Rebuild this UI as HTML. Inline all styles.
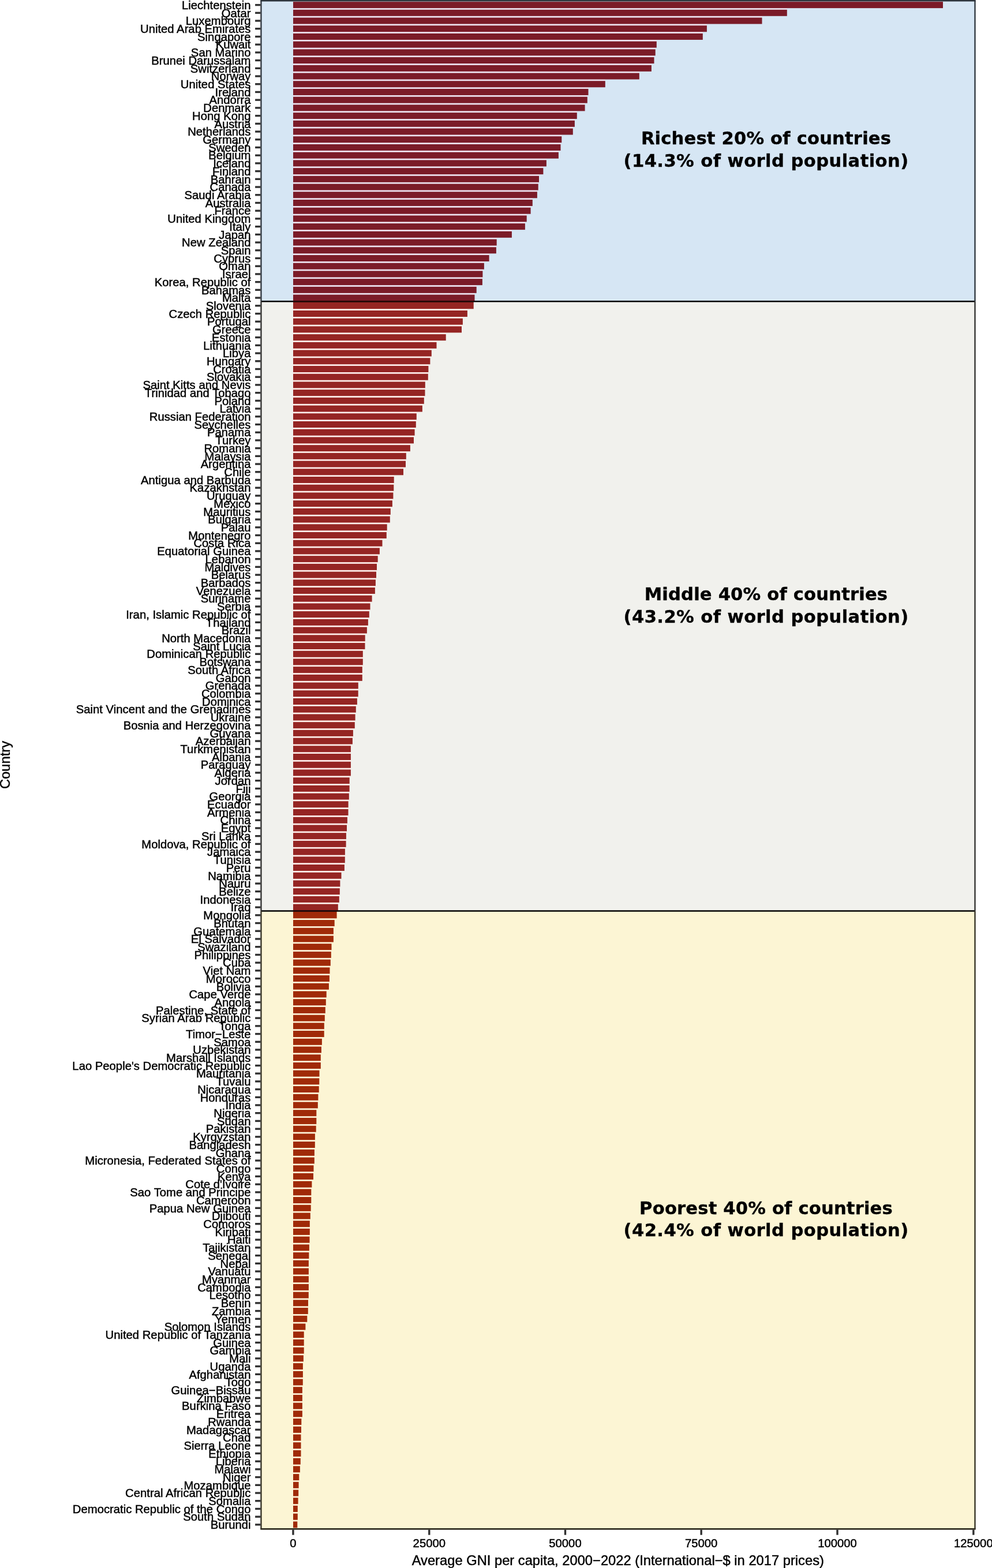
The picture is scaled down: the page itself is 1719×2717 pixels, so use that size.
<!DOCTYPE html>
<html lang="en"><head><meta charset="utf-8"><title>Average GNI per capita by country, 2000-2022</title>
<style>
html,body{margin:0;padding:0;background:#fff}
body{width:1719px;height:2717px;overflow:hidden}
svg{display:block}
text{font-family:"Liberation Sans",sans-serif;fill:#000;stroke:#000;stroke-width:0.45px}
.yl text{font-size:20.27px;text-anchor:end}
.xl text{font-size:20.27px;text-anchor:middle}
.ttl{font-size:23.72px;text-anchor:middle}
.ann text{font-family:"DejaVu Sans",sans-serif;font-weight:bold;font-size:30.6px;text-anchor:middle;stroke-width:0.35px}
.tk line{stroke:#303030;stroke-width:3.4}
.b0 rect{fill:#7B1B28}.b1 rect{fill:#952523}.b2 rect{fill:#A02A08}
</style></head><body>
<svg width="1719" height="2717" viewBox="0 0 1719 2717">
<rect x="0" y="0" width="1719" height="2717" fill="#fff"/>
<g>
<rect x="452.45" y="1.1" width="1237.05" height="521.2" fill="#D6E6F4"/>
<rect x="452.45" y="522.3" width="1237.05" height="1056.2" fill="#F1F1ED"/>
<rect x="452.45" y="1578.5" width="1237.05" height="1070.85" fill="#FCF5D4"/>
</g>
<g fill="#EEE4F1">
<rect x="508" y="2.15" width="1126" height="1.45"/>
<rect x="508" y="13.6" width="855.8" height="3.71"/>
<rect x="508" y="27.31" width="812.5" height="3.71"/>
<rect x="508" y="41.03" width="716.9" height="3.71"/>
<rect x="508" y="54.74" width="709.8" height="3.71"/>
<rect x="508" y="68.46" width="629.8" height="3.71"/>
<rect x="508" y="82.17" width="627.7" height="3.71"/>
<rect x="508" y="95.89" width="625.5" height="3.71"/>
<rect x="508" y="109.6" width="620.9" height="3.71"/>
<rect x="508" y="123.32" width="599.8" height="3.71"/>
<rect x="508" y="137.03" width="540.8" height="3.71"/>
<rect x="508" y="150.75" width="511.5" height="3.71"/>
<rect x="508" y="164.47" width="509.8" height="3.71"/>
<rect x="508" y="178.18" width="505.6" height="3.71"/>
<rect x="508" y="191.89" width="491.8" height="3.71"/>
<rect x="508" y="205.61" width="487.9" height="3.71"/>
<rect x="508" y="219.32" width="484.8" height="3.71"/>
<rect x="508" y="233.04" width="465.3" height="3.71"/>
<rect x="508" y="246.75" width="463.5" height="3.71"/>
<rect x="508" y="260.47" width="459.9" height="3.71"/>
<rect x="508" y="274.19" width="438.9" height="3.71"/>
<rect x="508" y="287.9" width="433.4" height="3.71"/>
<rect x="508" y="301.62" width="426" height="3.71"/>
<rect x="508" y="315.33" width="424.7" height="3.71"/>
<rect x="508" y="329.05" width="422.9" height="3.71"/>
<rect x="508" y="342.76" width="414.8" height="3.71"/>
<rect x="508" y="356.48" width="411.6" height="3.71"/>
<rect x="508" y="370.19" width="404.7" height="3.71"/>
<rect x="508" y="383.91" width="401.9" height="3.71"/>
<rect x="508" y="397.62" width="378.9" height="3.71"/>
<rect x="508" y="411.34" width="352.7" height="3.71"/>
<rect x="508" y="425.05" width="351.9" height="3.71"/>
<rect x="508" y="438.77" width="339.6" height="3.71"/>
<rect x="508" y="452.48" width="330.9" height="3.71"/>
<rect x="508" y="466.19" width="328.4" height="3.71"/>
<rect x="508" y="479.91" width="327.9" height="3.71"/>
<rect x="508" y="493.62" width="317.7" height="3.71"/>
<rect x="508" y="507.34" width="314.5" height="3.71"/>
</g>
<g fill="#FFF0EC">
<rect x="508" y="534.77" width="301.9" height="3.71"/>
<rect x="508" y="548.49" width="293.9" height="3.71"/>
<rect x="508" y="562.2" width="292" height="3.71"/>
<rect x="508" y="575.91" width="264.7" height="3.71"/>
<rect x="508" y="589.63" width="248.5" height="3.71"/>
<rect x="508" y="603.35" width="239.8" height="3.71"/>
<rect x="508" y="617.06" width="237.4" height="3.71"/>
<rect x="508" y="630.77" width="234.4" height="3.71"/>
<rect x="508" y="644.49" width="233.8" height="3.71"/>
<rect x="508" y="658.21" width="228.8" height="3.71"/>
<rect x="508" y="671.92" width="228.5" height="3.71"/>
<rect x="508" y="685.63" width="226.8" height="3.71"/>
<rect x="508" y="699.35" width="223.9" height="3.71"/>
<rect x="508" y="713.07" width="213.8" height="3.71"/>
<rect x="508" y="726.78" width="212.8" height="3.71"/>
<rect x="508" y="740.5" width="210.6" height="3.71"/>
<rect x="508" y="754.21" width="209" height="3.71"/>
<rect x="508" y="767.93" width="202.9" height="3.71"/>
<rect x="508" y="781.64" width="195.8" height="3.71"/>
<rect x="508" y="795.36" width="195" height="3.71"/>
<rect x="508" y="809.07" width="191" height="3.71"/>
<rect x="508" y="822.78" width="174.7" height="3.71"/>
<rect x="508" y="836.5" width="174.3" height="3.71"/>
<rect x="508" y="850.22" width="173.4" height="3.71"/>
<rect x="508" y="863.93" width="171.9" height="3.71"/>
<rect x="508" y="877.64" width="168.8" height="3.71"/>
<rect x="508" y="891.36" width="167.8" height="3.71"/>
<rect x="508" y="905.08" width="162.7" height="3.71"/>
<rect x="508" y="918.79" width="161.8" height="3.71"/>
<rect x="508" y="932.5" width="154.5" height="3.71"/>
<rect x="508" y="946.22" width="149.9" height="3.71"/>
<rect x="508" y="959.94" width="146.7" height="3.71"/>
<rect x="508" y="973.65" width="145" height="3.71"/>
<rect x="508" y="987.37" width="144" height="3.71"/>
<rect x="508" y="1001.08" width="142.9" height="3.71"/>
<rect x="508" y="1014.79" width="141.9" height="3.71"/>
<rect x="508" y="1028.51" width="136.6" height="3.71"/>
<rect x="508" y="1042.22" width="133.5" height="3.71"/>
<rect x="508" y="1055.94" width="131.8" height="3.71"/>
<rect x="508" y="1069.65" width="129.9" height="3.71"/>
<rect x="508" y="1083.37" width="127.9" height="3.71"/>
<rect x="508" y="1097.08" width="124.7" height="3.71"/>
<rect x="508" y="1110.8" width="124.5" height="3.71"/>
<rect x="508" y="1124.51" width="120.8" height="3.71"/>
<rect x="508" y="1138.23" width="120.8" height="3.71"/>
<rect x="508" y="1151.94" width="119.8" height="3.71"/>
<rect x="508" y="1165.66" width="119.8" height="3.71"/>
<rect x="508" y="1179.38" width="112.8" height="3.71"/>
<rect x="508" y="1193.09" width="112.7" height="3.71"/>
<rect x="508" y="1206.8" width="110.9" height="3.71"/>
<rect x="508" y="1220.52" width="108.8" height="3.71"/>
<rect x="508" y="1234.23" width="107.6" height="3.71"/>
<rect x="508" y="1247.95" width="106.8" height="3.71"/>
<rect x="508" y="1261.66" width="103.9" height="3.71"/>
<rect x="508" y="1275.38" width="102.9" height="3.71"/>
<rect x="508" y="1289.09" width="99.9" height="3.71"/>
<rect x="508" y="1302.81" width="99.9" height="3.71"/>
<rect x="508" y="1316.52" width="99.9" height="3.71"/>
<rect x="508" y="1330.24" width="99.9" height="3.71"/>
<rect x="508" y="1343.95" width="97.7" height="3.71"/>
<rect x="508" y="1357.67" width="97.6" height="3.71"/>
<rect x="508" y="1371.38" width="96.8" height="3.71"/>
<rect x="508" y="1385.1" width="95.6" height="3.71"/>
<rect x="508" y="1398.81" width="95.5" height="3.71"/>
<rect x="508" y="1412.53" width="93.9" height="3.71"/>
<rect x="508" y="1426.24" width="93" height="3.71"/>
<rect x="508" y="1439.96" width="91.9" height="3.71"/>
<rect x="508" y="1453.67" width="91.6" height="3.71"/>
<rect x="508" y="1467.39" width="89.9" height="3.71"/>
<rect x="508" y="1481.1" width="89.8" height="3.71"/>
<rect x="508" y="1494.82" width="88.9" height="3.71"/>
<rect x="508" y="1508.53" width="83.5" height="3.71"/>
<rect x="508" y="1522.25" width="81.4" height="3.71"/>
<rect x="508" y="1535.96" width="80.8" height="3.71"/>
<rect x="508" y="1549.68" width="79.8" height="3.71"/>
<rect x="508" y="1563.39" width="77.8" height="3.71"/>
</g>
<g fill="#FFF6DC">
<rect x="508" y="1590.82" width="71.7" height="3.71"/>
<rect x="508" y="1604.54" width="69.9" height="3.71"/>
<rect x="508" y="1618.25" width="69.9" height="3.71"/>
<rect x="508" y="1631.97" width="66.5" height="3.71"/>
<rect x="508" y="1645.68" width="65.8" height="3.71"/>
<rect x="508" y="1659.4" width="64.8" height="3.71"/>
<rect x="508" y="1673.11" width="63.5" height="3.71"/>
<rect x="508" y="1686.83" width="62.9" height="3.71"/>
<rect x="508" y="1700.54" width="61.9" height="3.71"/>
<rect x="508" y="1714.26" width="57.7" height="3.71"/>
<rect x="508" y="1727.97" width="56.8" height="3.71"/>
<rect x="508" y="1741.69" width="55.8" height="3.71"/>
<rect x="508" y="1755.4" width="54.8" height="3.71"/>
<rect x="508" y="1769.12" width="53.8" height="3.71"/>
<rect x="508" y="1782.83" width="53.7" height="3.71"/>
<rect x="508" y="1796.55" width="49.9" height="3.71"/>
<rect x="508" y="1810.26" width="48.9" height="3.71"/>
<rect x="508" y="1823.98" width="47.8" height="3.71"/>
<rect x="508" y="1837.69" width="47.8" height="3.71"/>
<rect x="508" y="1851.41" width="45.5" height="3.71"/>
<rect x="508" y="1865.12" width="45.3" height="3.71"/>
<rect x="508" y="1878.84" width="44.7" height="3.71"/>
<rect x="508" y="1892.55" width="43.4" height="3.71"/>
<rect x="508" y="1906.27" width="42.8" height="3.71"/>
<rect x="508" y="1919.98" width="40.3" height="3.71"/>
<rect x="508" y="1933.7" width="40.3" height="3.71"/>
<rect x="508" y="1947.41" width="39.7" height="3.71"/>
<rect x="508" y="1961.13" width="37.9" height="3.71"/>
<rect x="508" y="1974.84" width="37.8" height="3.71"/>
<rect x="508" y="1988.56" width="36.9" height="3.71"/>
<rect x="508" y="2002.27" width="36.8" height="3.71"/>
<rect x="508" y="2015.99" width="35.5" height="3.71"/>
<rect x="508" y="2029.7" width="35" height="3.71"/>
<rect x="508" y="2043.42" width="32.4" height="3.71"/>
<rect x="508" y="2057.14" width="31.3" height="3.71"/>
<rect x="508" y="2070.85" width="31.3" height="3.71"/>
<rect x="508" y="2084.57" width="30.7" height="3.71"/>
<rect x="508" y="2098.28" width="29.8" height="3.71"/>
<rect x="508" y="2111.99" width="28.8" height="3.71"/>
<rect x="508" y="2125.71" width="28.8" height="3.71"/>
<rect x="508" y="2139.42" width="28.5" height="3.71"/>
<rect x="508" y="2153.14" width="27.9" height="3.71"/>
<rect x="508" y="2166.86" width="27.4" height="3.71"/>
<rect x="508" y="2180.57" width="26.9" height="3.71"/>
<rect x="508" y="2194.28" width="26.9" height="3.71"/>
<rect x="508" y="2208" width="26.9" height="3.71"/>
<rect x="508" y="2221.71" width="26.9" height="3.71"/>
<rect x="508" y="2235.43" width="26.8" height="3.71"/>
<rect x="508" y="2249.14" width="26" height="3.71"/>
<rect x="508" y="2262.86" width="25.8" height="3.71"/>
<rect x="508" y="2276.57" width="24.3" height="3.71"/>
<rect x="508" y="2290.29" width="21.4" height="3.71"/>
<rect x="508" y="2304.01" width="18.7" height="3.71"/>
<rect x="508" y="2317.72" width="18.7" height="3.71"/>
<rect x="508" y="2331.43" width="18.7" height="3.71"/>
<rect x="508" y="2345.15" width="17.9" height="3.71"/>
<rect x="508" y="2358.86" width="16.9" height="3.71"/>
<rect x="508" y="2372.58" width="16.9" height="3.71"/>
<rect x="508" y="2386.3" width="16.8" height="3.71"/>
<rect x="508" y="2400.01" width="15.9" height="3.71"/>
<rect x="508" y="2413.72" width="15.9" height="3.71"/>
<rect x="508" y="2427.44" width="15.9" height="3.71"/>
<rect x="508" y="2441.15" width="15.9" height="3.71"/>
<rect x="508" y="2454.87" width="14.3" height="3.71"/>
<rect x="508" y="2468.59" width="14" height="3.71"/>
<rect x="508" y="2482.3" width="13.5" height="3.71"/>
<rect x="508" y="2496.01" width="13.5" height="3.71"/>
<rect x="508" y="2509.73" width="13.5" height="3.71"/>
<rect x="508" y="2523.44" width="12.8" height="3.71"/>
<rect x="508" y="2537.16" width="11.9" height="3.71"/>
<rect x="508" y="2550.88" width="10.3" height="3.71"/>
<rect x="508" y="2564.59" width="9.6" height="3.71"/>
<rect x="508" y="2578.3" width="9.2" height="3.71"/>
<rect x="508" y="2592.02" width="8.6" height="3.71"/>
<rect x="508" y="2605.73" width="7.8" height="3.71"/>
<rect x="508" y="2619.45" width="7.8" height="3.71"/>
<rect x="508" y="2633.16" width="7.3" height="3.71"/>
</g>
<g class="b0">
<rect x="508" y="3.1" width="1126" height="11"/>
<rect x="508" y="16.81" width="855.8" height="11"/>
<rect x="508" y="30.53" width="812.5" height="11"/>
<rect x="508" y="44.24" width="716.9" height="11"/>
<rect x="508" y="57.96" width="709.8" height="11"/>
<rect x="508" y="71.67" width="629.8" height="11"/>
<rect x="508" y="85.39" width="627.7" height="11"/>
<rect x="508" y="99.1" width="625.5" height="11"/>
<rect x="508" y="112.82" width="620.9" height="11"/>
<rect x="508" y="126.53" width="599.8" height="11"/>
<rect x="508" y="140.25" width="540.8" height="11"/>
<rect x="508" y="153.97" width="511.5" height="11"/>
<rect x="508" y="167.68" width="509.8" height="11"/>
<rect x="508" y="181.39" width="505.6" height="11"/>
<rect x="508" y="195.11" width="491.8" height="11"/>
<rect x="508" y="208.82" width="487.9" height="11"/>
<rect x="508" y="222.54" width="484.8" height="11"/>
<rect x="508" y="236.25" width="465.3" height="11"/>
<rect x="508" y="249.97" width="463.5" height="11"/>
<rect x="508" y="263.69" width="459.9" height="11"/>
<rect x="508" y="277.4" width="438.9" height="11"/>
<rect x="508" y="291.12" width="433.4" height="11"/>
<rect x="508" y="304.83" width="426" height="11"/>
<rect x="508" y="318.55" width="424.7" height="11"/>
<rect x="508" y="332.26" width="422.9" height="11"/>
<rect x="508" y="345.98" width="414.8" height="11"/>
<rect x="508" y="359.69" width="411.6" height="11"/>
<rect x="508" y="373.41" width="404.7" height="11"/>
<rect x="508" y="387.12" width="401.9" height="11"/>
<rect x="508" y="400.84" width="378.9" height="11"/>
<rect x="508" y="414.55" width="352.7" height="11"/>
<rect x="508" y="428.27" width="351.9" height="11"/>
<rect x="508" y="441.98" width="339.6" height="11"/>
<rect x="508" y="455.69" width="330.9" height="11"/>
<rect x="508" y="469.41" width="328.4" height="11"/>
<rect x="508" y="483.12" width="327.9" height="11"/>
<rect x="508" y="496.84" width="317.7" height="11"/>
<rect x="508" y="510.55" width="314.5" height="11"/>
</g>
<g class="b1">
<rect x="508" y="522.3" width="312.7" height="12.97"/>
<rect x="508" y="537.99" width="301.9" height="11"/>
<rect x="508" y="551.7" width="293.9" height="11"/>
<rect x="508" y="565.41" width="292" height="11"/>
<rect x="508" y="579.13" width="264.7" height="11"/>
<rect x="508" y="592.85" width="248.5" height="11"/>
<rect x="508" y="606.56" width="239.8" height="11"/>
<rect x="508" y="620.27" width="237.4" height="11"/>
<rect x="508" y="633.99" width="234.4" height="11"/>
<rect x="508" y="647.71" width="233.8" height="11"/>
<rect x="508" y="661.42" width="228.8" height="11"/>
<rect x="508" y="675.13" width="228.5" height="11"/>
<rect x="508" y="688.85" width="226.8" height="11"/>
<rect x="508" y="702.57" width="223.9" height="11"/>
<rect x="508" y="716.28" width="213.8" height="11"/>
<rect x="508" y="730" width="212.8" height="11"/>
<rect x="508" y="743.71" width="210.6" height="11"/>
<rect x="508" y="757.43" width="209" height="11"/>
<rect x="508" y="771.14" width="202.9" height="11"/>
<rect x="508" y="784.86" width="195.8" height="11"/>
<rect x="508" y="798.57" width="195" height="11"/>
<rect x="508" y="812.28" width="191" height="11"/>
<rect x="508" y="826" width="174.7" height="11"/>
<rect x="508" y="839.72" width="174.3" height="11"/>
<rect x="508" y="853.43" width="173.4" height="11"/>
<rect x="508" y="867.14" width="171.9" height="11"/>
<rect x="508" y="880.86" width="168.8" height="11"/>
<rect x="508" y="894.58" width="167.8" height="11"/>
<rect x="508" y="908.29" width="162.7" height="11"/>
<rect x="508" y="922" width="161.8" height="11"/>
<rect x="508" y="935.72" width="154.5" height="11"/>
<rect x="508" y="949.44" width="149.9" height="11"/>
<rect x="508" y="963.15" width="146.7" height="11"/>
<rect x="508" y="976.87" width="145" height="11"/>
<rect x="508" y="990.58" width="144" height="11"/>
<rect x="508" y="1004.29" width="142.9" height="11"/>
<rect x="508" y="1018.01" width="141.9" height="11"/>
<rect x="508" y="1031.72" width="136.6" height="11"/>
<rect x="508" y="1045.44" width="133.5" height="11"/>
<rect x="508" y="1059.15" width="131.8" height="11"/>
<rect x="508" y="1072.87" width="129.9" height="11"/>
<rect x="508" y="1086.58" width="127.9" height="11"/>
<rect x="508" y="1100.3" width="124.7" height="11"/>
<rect x="508" y="1114.01" width="124.5" height="11"/>
<rect x="508" y="1127.73" width="120.8" height="11"/>
<rect x="508" y="1141.44" width="120.8" height="11"/>
<rect x="508" y="1155.16" width="119.8" height="11"/>
<rect x="508" y="1168.88" width="119.8" height="11"/>
<rect x="508" y="1182.59" width="112.8" height="11"/>
<rect x="508" y="1196.3" width="112.7" height="11"/>
<rect x="508" y="1210.02" width="110.9" height="11"/>
<rect x="508" y="1223.73" width="108.8" height="11"/>
<rect x="508" y="1237.45" width="107.6" height="11"/>
<rect x="508" y="1251.16" width="106.8" height="11"/>
<rect x="508" y="1264.88" width="103.9" height="11"/>
<rect x="508" y="1278.59" width="102.9" height="11"/>
<rect x="508" y="1292.31" width="99.9" height="11"/>
<rect x="508" y="1306.02" width="99.9" height="11"/>
<rect x="508" y="1319.74" width="99.9" height="11"/>
<rect x="508" y="1333.45" width="99.9" height="11"/>
<rect x="508" y="1347.17" width="97.7" height="11"/>
<rect x="508" y="1360.88" width="97.6" height="11"/>
<rect x="508" y="1374.6" width="96.8" height="11"/>
<rect x="508" y="1388.31" width="95.6" height="11"/>
<rect x="508" y="1402.03" width="95.5" height="11"/>
<rect x="508" y="1415.74" width="93.9" height="11"/>
<rect x="508" y="1429.46" width="93" height="11"/>
<rect x="508" y="1443.17" width="91.9" height="11"/>
<rect x="508" y="1456.89" width="91.6" height="11"/>
<rect x="508" y="1470.6" width="89.9" height="11"/>
<rect x="508" y="1484.32" width="89.8" height="11"/>
<rect x="508" y="1498.03" width="88.9" height="11"/>
<rect x="508" y="1511.75" width="83.5" height="11"/>
<rect x="508" y="1525.46" width="81.4" height="11"/>
<rect x="508" y="1539.18" width="80.8" height="11"/>
<rect x="508" y="1552.89" width="79.8" height="11"/>
<rect x="508" y="1566.61" width="77.8" height="11"/>
</g>
<g class="b2">
<rect x="508" y="1578.5" width="75.6" height="12.82"/>
<rect x="508" y="1594.04" width="71.7" height="11"/>
<rect x="508" y="1607.75" width="69.9" height="11"/>
<rect x="508" y="1621.47" width="69.9" height="11"/>
<rect x="508" y="1635.18" width="66.5" height="11"/>
<rect x="508" y="1648.9" width="65.8" height="11"/>
<rect x="508" y="1662.61" width="64.8" height="11"/>
<rect x="508" y="1676.33" width="63.5" height="11"/>
<rect x="508" y="1690.04" width="62.9" height="11"/>
<rect x="508" y="1703.76" width="61.9" height="11"/>
<rect x="508" y="1717.47" width="57.7" height="11"/>
<rect x="508" y="1731.19" width="56.8" height="11"/>
<rect x="508" y="1744.9" width="55.8" height="11"/>
<rect x="508" y="1758.62" width="54.8" height="11"/>
<rect x="508" y="1772.33" width="53.8" height="11"/>
<rect x="508" y="1786.05" width="53.7" height="11"/>
<rect x="508" y="1799.76" width="49.9" height="11"/>
<rect x="508" y="1813.48" width="48.9" height="11"/>
<rect x="508" y="1827.19" width="47.8" height="11"/>
<rect x="508" y="1840.91" width="47.8" height="11"/>
<rect x="508" y="1854.62" width="45.5" height="11"/>
<rect x="508" y="1868.34" width="45.3" height="11"/>
<rect x="508" y="1882.05" width="44.7" height="11"/>
<rect x="508" y="1895.77" width="43.4" height="11"/>
<rect x="508" y="1909.48" width="42.8" height="11"/>
<rect x="508" y="1923.2" width="40.3" height="11"/>
<rect x="508" y="1936.91" width="40.3" height="11"/>
<rect x="508" y="1950.63" width="39.7" height="11"/>
<rect x="508" y="1964.34" width="37.9" height="11"/>
<rect x="508" y="1978.06" width="37.8" height="11"/>
<rect x="508" y="1991.77" width="36.9" height="11"/>
<rect x="508" y="2005.49" width="36.8" height="11"/>
<rect x="508" y="2019.2" width="35.5" height="11"/>
<rect x="508" y="2032.92" width="35" height="11"/>
<rect x="508" y="2046.64" width="32.4" height="11"/>
<rect x="508" y="2060.35" width="31.3" height="11"/>
<rect x="508" y="2074.07" width="31.3" height="11"/>
<rect x="508" y="2087.78" width="30.7" height="11"/>
<rect x="508" y="2101.49" width="29.8" height="11"/>
<rect x="508" y="2115.21" width="28.8" height="11"/>
<rect x="508" y="2128.92" width="28.8" height="11"/>
<rect x="508" y="2142.64" width="28.5" height="11"/>
<rect x="508" y="2156.36" width="27.9" height="11"/>
<rect x="508" y="2170.07" width="27.4" height="11"/>
<rect x="508" y="2183.78" width="26.9" height="11"/>
<rect x="508" y="2197.5" width="26.9" height="11"/>
<rect x="508" y="2211.21" width="26.9" height="11"/>
<rect x="508" y="2224.93" width="26.9" height="11"/>
<rect x="508" y="2238.64" width="26.8" height="11"/>
<rect x="508" y="2252.36" width="26" height="11"/>
<rect x="508" y="2266.07" width="25.8" height="11"/>
<rect x="508" y="2279.79" width="24.3" height="11"/>
<rect x="508" y="2293.51" width="21.4" height="11"/>
<rect x="508" y="2307.22" width="18.7" height="11"/>
<rect x="508" y="2320.93" width="18.7" height="11"/>
<rect x="508" y="2334.65" width="18.7" height="11"/>
<rect x="508" y="2348.36" width="17.9" height="11"/>
<rect x="508" y="2362.08" width="16.9" height="11"/>
<rect x="508" y="2375.8" width="16.9" height="11"/>
<rect x="508" y="2389.51" width="16.8" height="11"/>
<rect x="508" y="2403.22" width="15.9" height="11"/>
<rect x="508" y="2416.94" width="15.9" height="11"/>
<rect x="508" y="2430.65" width="15.9" height="11"/>
<rect x="508" y="2444.37" width="15.9" height="11"/>
<rect x="508" y="2458.09" width="14.3" height="11"/>
<rect x="508" y="2471.8" width="14" height="11"/>
<rect x="508" y="2485.51" width="13.5" height="11"/>
<rect x="508" y="2499.23" width="13.5" height="11"/>
<rect x="508" y="2512.94" width="13.5" height="11"/>
<rect x="508" y="2526.66" width="12.8" height="11"/>
<rect x="508" y="2540.38" width="11.9" height="11"/>
<rect x="508" y="2554.09" width="10.3" height="11"/>
<rect x="508" y="2567.8" width="9.6" height="11"/>
<rect x="508" y="2581.52" width="9.2" height="11"/>
<rect x="508" y="2595.23" width="8.6" height="11"/>
<rect x="508" y="2608.95" width="7.8" height="11"/>
<rect x="508" y="2622.66" width="7.8" height="11"/>
<rect x="508" y="2636.38" width="7.3" height="11"/>
</g>
<g stroke="#000" stroke-width="2.6">
<line x1="452.45" y1="522.3" x2="1689.5" y2="522.3"/>
<line x1="508" y1="522.3" x2="820.7" y2="522.3" stroke="#240808"/>
<line x1="452.45" y1="1578.5" x2="1689.5" y2="1578.5"/>
<line x1="508" y1="1578.5" x2="583.6" y2="1578.5" stroke="#240808"/>
</g>
<g class="ann">
<text x="1327.5" y="250.1" letter-spacing="0.18">Richest 20% of countries</text>
<text x="1327.6" y="288.8" letter-spacing="0.42">(14.3% of world population)</text>
<text x="1327.5" y="1040.1" letter-spacing="0.18">Middle 40% of countries</text>
<text x="1327.6" y="1078.8" letter-spacing="0.42">(43.2% of world population)</text>
<text x="1327.5" y="2103.9" letter-spacing="0.18">Poorest 40% of countries</text>
<text x="1327.6" y="2142.3" letter-spacing="0.42">(42.4% of world population)</text>
</g>
<g stroke="#2a2a2a" stroke-linecap="butt">
<line x1="452.45" y1="1.1" x2="452.45" y2="522.3" stroke-width="2.3" stroke="#2c333b"/>
<line x1="452.45" y1="522.3" x2="452.45" y2="1578.5" stroke-width="2.3" stroke="#2d2d2b"/>
<line x1="452.45" y1="1578.5" x2="452.45" y2="2649.35" stroke-width="2.3" stroke="#302d20"/>
<line x1="1689.5" y1="1.1" x2="1689.5" y2="522.3" stroke-width="2.3" stroke="#2c333b"/>
<line x1="1689.5" y1="522.3" x2="1689.5" y2="1578.5" stroke-width="2.3" stroke="#2d2d2b"/>
<line x1="1689.5" y1="1578.5" x2="1689.5" y2="2649.35" stroke-width="2.3" stroke="#302d20"/>
<line x1="451.3" y1="1.1" x2="1690.65" y2="1.1" stroke-width="2.7" stroke="#2c333b"/>
<line x1="451.3" y1="2649.35" x2="1690.65" y2="2649.35" stroke-width="2.7" stroke="#302d20"/>
</g>
<g class="tk">
<line x1="442.1" y1="8.6" x2="451.4" y2="8.6"/>
<line x1="442.1" y1="22.31" x2="451.4" y2="22.31"/>
<line x1="442.1" y1="36.03" x2="451.4" y2="36.03"/>
<line x1="442.1" y1="49.74" x2="451.4" y2="49.74"/>
<line x1="442.1" y1="63.46" x2="451.4" y2="63.46"/>
<line x1="442.1" y1="77.17" x2="451.4" y2="77.17"/>
<line x1="442.1" y1="90.89" x2="451.4" y2="90.89"/>
<line x1="442.1" y1="104.6" x2="451.4" y2="104.6"/>
<line x1="442.1" y1="118.32" x2="451.4" y2="118.32"/>
<line x1="442.1" y1="132.03" x2="451.4" y2="132.03"/>
<line x1="442.1" y1="145.75" x2="451.4" y2="145.75"/>
<line x1="442.1" y1="159.47" x2="451.4" y2="159.47"/>
<line x1="442.1" y1="173.18" x2="451.4" y2="173.18"/>
<line x1="442.1" y1="186.89" x2="451.4" y2="186.89"/>
<line x1="442.1" y1="200.61" x2="451.4" y2="200.61"/>
<line x1="442.1" y1="214.32" x2="451.4" y2="214.32"/>
<line x1="442.1" y1="228.04" x2="451.4" y2="228.04"/>
<line x1="442.1" y1="241.75" x2="451.4" y2="241.75"/>
<line x1="442.1" y1="255.47" x2="451.4" y2="255.47"/>
<line x1="442.1" y1="269.19" x2="451.4" y2="269.19"/>
<line x1="442.1" y1="282.9" x2="451.4" y2="282.9"/>
<line x1="442.1" y1="296.62" x2="451.4" y2="296.62"/>
<line x1="442.1" y1="310.33" x2="451.4" y2="310.33"/>
<line x1="442.1" y1="324.05" x2="451.4" y2="324.05"/>
<line x1="442.1" y1="337.76" x2="451.4" y2="337.76"/>
<line x1="442.1" y1="351.48" x2="451.4" y2="351.48"/>
<line x1="442.1" y1="365.19" x2="451.4" y2="365.19"/>
<line x1="442.1" y1="378.91" x2="451.4" y2="378.91"/>
<line x1="442.1" y1="392.62" x2="451.4" y2="392.62"/>
<line x1="442.1" y1="406.34" x2="451.4" y2="406.34"/>
<line x1="442.1" y1="420.05" x2="451.4" y2="420.05"/>
<line x1="442.1" y1="433.77" x2="451.4" y2="433.77"/>
<line x1="442.1" y1="447.48" x2="451.4" y2="447.48"/>
<line x1="442.1" y1="461.19" x2="451.4" y2="461.19"/>
<line x1="442.1" y1="474.91" x2="451.4" y2="474.91"/>
<line x1="442.1" y1="488.62" x2="451.4" y2="488.62"/>
<line x1="442.1" y1="502.34" x2="451.4" y2="502.34"/>
<line x1="442.1" y1="516.05" x2="451.4" y2="516.05"/>
<line x1="442.1" y1="529.77" x2="451.4" y2="529.77"/>
<line x1="442.1" y1="543.49" x2="451.4" y2="543.49"/>
<line x1="442.1" y1="557.2" x2="451.4" y2="557.2"/>
<line x1="442.1" y1="570.91" x2="451.4" y2="570.91"/>
<line x1="442.1" y1="584.63" x2="451.4" y2="584.63"/>
<line x1="442.1" y1="598.35" x2="451.4" y2="598.35"/>
<line x1="442.1" y1="612.06" x2="451.4" y2="612.06"/>
<line x1="442.1" y1="625.77" x2="451.4" y2="625.77"/>
<line x1="442.1" y1="639.49" x2="451.4" y2="639.49"/>
<line x1="442.1" y1="653.21" x2="451.4" y2="653.21"/>
<line x1="442.1" y1="666.92" x2="451.4" y2="666.92"/>
<line x1="442.1" y1="680.63" x2="451.4" y2="680.63"/>
<line x1="442.1" y1="694.35" x2="451.4" y2="694.35"/>
<line x1="442.1" y1="708.07" x2="451.4" y2="708.07"/>
<line x1="442.1" y1="721.78" x2="451.4" y2="721.78"/>
<line x1="442.1" y1="735.5" x2="451.4" y2="735.5"/>
<line x1="442.1" y1="749.21" x2="451.4" y2="749.21"/>
<line x1="442.1" y1="762.93" x2="451.4" y2="762.93"/>
<line x1="442.1" y1="776.64" x2="451.4" y2="776.64"/>
<line x1="442.1" y1="790.36" x2="451.4" y2="790.36"/>
<line x1="442.1" y1="804.07" x2="451.4" y2="804.07"/>
<line x1="442.1" y1="817.78" x2="451.4" y2="817.78"/>
<line x1="442.1" y1="831.5" x2="451.4" y2="831.5"/>
<line x1="442.1" y1="845.22" x2="451.4" y2="845.22"/>
<line x1="442.1" y1="858.93" x2="451.4" y2="858.93"/>
<line x1="442.1" y1="872.64" x2="451.4" y2="872.64"/>
<line x1="442.1" y1="886.36" x2="451.4" y2="886.36"/>
<line x1="442.1" y1="900.08" x2="451.4" y2="900.08"/>
<line x1="442.1" y1="913.79" x2="451.4" y2="913.79"/>
<line x1="442.1" y1="927.5" x2="451.4" y2="927.5"/>
<line x1="442.1" y1="941.22" x2="451.4" y2="941.22"/>
<line x1="442.1" y1="954.94" x2="451.4" y2="954.94"/>
<line x1="442.1" y1="968.65" x2="451.4" y2="968.65"/>
<line x1="442.1" y1="982.37" x2="451.4" y2="982.37"/>
<line x1="442.1" y1="996.08" x2="451.4" y2="996.08"/>
<line x1="442.1" y1="1009.79" x2="451.4" y2="1009.79"/>
<line x1="442.1" y1="1023.51" x2="451.4" y2="1023.51"/>
<line x1="442.1" y1="1037.22" x2="451.4" y2="1037.22"/>
<line x1="442.1" y1="1050.94" x2="451.4" y2="1050.94"/>
<line x1="442.1" y1="1064.65" x2="451.4" y2="1064.65"/>
<line x1="442.1" y1="1078.37" x2="451.4" y2="1078.37"/>
<line x1="442.1" y1="1092.08" x2="451.4" y2="1092.08"/>
<line x1="442.1" y1="1105.8" x2="451.4" y2="1105.8"/>
<line x1="442.1" y1="1119.51" x2="451.4" y2="1119.51"/>
<line x1="442.1" y1="1133.23" x2="451.4" y2="1133.23"/>
<line x1="442.1" y1="1146.94" x2="451.4" y2="1146.94"/>
<line x1="442.1" y1="1160.66" x2="451.4" y2="1160.66"/>
<line x1="442.1" y1="1174.38" x2="451.4" y2="1174.38"/>
<line x1="442.1" y1="1188.09" x2="451.4" y2="1188.09"/>
<line x1="442.1" y1="1201.8" x2="451.4" y2="1201.8"/>
<line x1="442.1" y1="1215.52" x2="451.4" y2="1215.52"/>
<line x1="442.1" y1="1229.23" x2="451.4" y2="1229.23"/>
<line x1="442.1" y1="1242.95" x2="451.4" y2="1242.95"/>
<line x1="442.1" y1="1256.66" x2="451.4" y2="1256.66"/>
<line x1="442.1" y1="1270.38" x2="451.4" y2="1270.38"/>
<line x1="442.1" y1="1284.09" x2="451.4" y2="1284.09"/>
<line x1="442.1" y1="1297.81" x2="451.4" y2="1297.81"/>
<line x1="442.1" y1="1311.52" x2="451.4" y2="1311.52"/>
<line x1="442.1" y1="1325.24" x2="451.4" y2="1325.24"/>
<line x1="442.1" y1="1338.95" x2="451.4" y2="1338.95"/>
<line x1="442.1" y1="1352.67" x2="451.4" y2="1352.67"/>
<line x1="442.1" y1="1366.38" x2="451.4" y2="1366.38"/>
<line x1="442.1" y1="1380.1" x2="451.4" y2="1380.1"/>
<line x1="442.1" y1="1393.81" x2="451.4" y2="1393.81"/>
<line x1="442.1" y1="1407.53" x2="451.4" y2="1407.53"/>
<line x1="442.1" y1="1421.24" x2="451.4" y2="1421.24"/>
<line x1="442.1" y1="1434.96" x2="451.4" y2="1434.96"/>
<line x1="442.1" y1="1448.67" x2="451.4" y2="1448.67"/>
<line x1="442.1" y1="1462.39" x2="451.4" y2="1462.39"/>
<line x1="442.1" y1="1476.1" x2="451.4" y2="1476.1"/>
<line x1="442.1" y1="1489.82" x2="451.4" y2="1489.82"/>
<line x1="442.1" y1="1503.53" x2="451.4" y2="1503.53"/>
<line x1="442.1" y1="1517.25" x2="451.4" y2="1517.25"/>
<line x1="442.1" y1="1530.96" x2="451.4" y2="1530.96"/>
<line x1="442.1" y1="1544.68" x2="451.4" y2="1544.68"/>
<line x1="442.1" y1="1558.39" x2="451.4" y2="1558.39"/>
<line x1="442.1" y1="1572.11" x2="451.4" y2="1572.11"/>
<line x1="442.1" y1="1585.82" x2="451.4" y2="1585.82"/>
<line x1="442.1" y1="1599.54" x2="451.4" y2="1599.54"/>
<line x1="442.1" y1="1613.25" x2="451.4" y2="1613.25"/>
<line x1="442.1" y1="1626.97" x2="451.4" y2="1626.97"/>
<line x1="442.1" y1="1640.68" x2="451.4" y2="1640.68"/>
<line x1="442.1" y1="1654.4" x2="451.4" y2="1654.4"/>
<line x1="442.1" y1="1668.11" x2="451.4" y2="1668.11"/>
<line x1="442.1" y1="1681.83" x2="451.4" y2="1681.83"/>
<line x1="442.1" y1="1695.54" x2="451.4" y2="1695.54"/>
<line x1="442.1" y1="1709.26" x2="451.4" y2="1709.26"/>
<line x1="442.1" y1="1722.97" x2="451.4" y2="1722.97"/>
<line x1="442.1" y1="1736.69" x2="451.4" y2="1736.69"/>
<line x1="442.1" y1="1750.4" x2="451.4" y2="1750.4"/>
<line x1="442.1" y1="1764.12" x2="451.4" y2="1764.12"/>
<line x1="442.1" y1="1777.83" x2="451.4" y2="1777.83"/>
<line x1="442.1" y1="1791.55" x2="451.4" y2="1791.55"/>
<line x1="442.1" y1="1805.26" x2="451.4" y2="1805.26"/>
<line x1="442.1" y1="1818.98" x2="451.4" y2="1818.98"/>
<line x1="442.1" y1="1832.69" x2="451.4" y2="1832.69"/>
<line x1="442.1" y1="1846.41" x2="451.4" y2="1846.41"/>
<line x1="442.1" y1="1860.12" x2="451.4" y2="1860.12"/>
<line x1="442.1" y1="1873.84" x2="451.4" y2="1873.84"/>
<line x1="442.1" y1="1887.55" x2="451.4" y2="1887.55"/>
<line x1="442.1" y1="1901.27" x2="451.4" y2="1901.27"/>
<line x1="442.1" y1="1914.98" x2="451.4" y2="1914.98"/>
<line x1="442.1" y1="1928.7" x2="451.4" y2="1928.7"/>
<line x1="442.1" y1="1942.41" x2="451.4" y2="1942.41"/>
<line x1="442.1" y1="1956.13" x2="451.4" y2="1956.13"/>
<line x1="442.1" y1="1969.84" x2="451.4" y2="1969.84"/>
<line x1="442.1" y1="1983.56" x2="451.4" y2="1983.56"/>
<line x1="442.1" y1="1997.27" x2="451.4" y2="1997.27"/>
<line x1="442.1" y1="2010.99" x2="451.4" y2="2010.99"/>
<line x1="442.1" y1="2024.7" x2="451.4" y2="2024.7"/>
<line x1="442.1" y1="2038.42" x2="451.4" y2="2038.42"/>
<line x1="442.1" y1="2052.14" x2="451.4" y2="2052.14"/>
<line x1="442.1" y1="2065.85" x2="451.4" y2="2065.85"/>
<line x1="442.1" y1="2079.57" x2="451.4" y2="2079.57"/>
<line x1="442.1" y1="2093.28" x2="451.4" y2="2093.28"/>
<line x1="442.1" y1="2106.99" x2="451.4" y2="2106.99"/>
<line x1="442.1" y1="2120.71" x2="451.4" y2="2120.71"/>
<line x1="442.1" y1="2134.42" x2="451.4" y2="2134.42"/>
<line x1="442.1" y1="2148.14" x2="451.4" y2="2148.14"/>
<line x1="442.1" y1="2161.86" x2="451.4" y2="2161.86"/>
<line x1="442.1" y1="2175.57" x2="451.4" y2="2175.57"/>
<line x1="442.1" y1="2189.28" x2="451.4" y2="2189.28"/>
<line x1="442.1" y1="2203" x2="451.4" y2="2203"/>
<line x1="442.1" y1="2216.71" x2="451.4" y2="2216.71"/>
<line x1="442.1" y1="2230.43" x2="451.4" y2="2230.43"/>
<line x1="442.1" y1="2244.14" x2="451.4" y2="2244.14"/>
<line x1="442.1" y1="2257.86" x2="451.4" y2="2257.86"/>
<line x1="442.1" y1="2271.57" x2="451.4" y2="2271.57"/>
<line x1="442.1" y1="2285.29" x2="451.4" y2="2285.29"/>
<line x1="442.1" y1="2299.01" x2="451.4" y2="2299.01"/>
<line x1="442.1" y1="2312.72" x2="451.4" y2="2312.72"/>
<line x1="442.1" y1="2326.43" x2="451.4" y2="2326.43"/>
<line x1="442.1" y1="2340.15" x2="451.4" y2="2340.15"/>
<line x1="442.1" y1="2353.86" x2="451.4" y2="2353.86"/>
<line x1="442.1" y1="2367.58" x2="451.4" y2="2367.58"/>
<line x1="442.1" y1="2381.3" x2="451.4" y2="2381.3"/>
<line x1="442.1" y1="2395.01" x2="451.4" y2="2395.01"/>
<line x1="442.1" y1="2408.72" x2="451.4" y2="2408.72"/>
<line x1="442.1" y1="2422.44" x2="451.4" y2="2422.44"/>
<line x1="442.1" y1="2436.15" x2="451.4" y2="2436.15"/>
<line x1="442.1" y1="2449.87" x2="451.4" y2="2449.87"/>
<line x1="442.1" y1="2463.59" x2="451.4" y2="2463.59"/>
<line x1="442.1" y1="2477.3" x2="451.4" y2="2477.3"/>
<line x1="442.1" y1="2491.01" x2="451.4" y2="2491.01"/>
<line x1="442.1" y1="2504.73" x2="451.4" y2="2504.73"/>
<line x1="442.1" y1="2518.44" x2="451.4" y2="2518.44"/>
<line x1="442.1" y1="2532.16" x2="451.4" y2="2532.16"/>
<line x1="442.1" y1="2545.88" x2="451.4" y2="2545.88"/>
<line x1="442.1" y1="2559.59" x2="451.4" y2="2559.59"/>
<line x1="442.1" y1="2573.3" x2="451.4" y2="2573.3"/>
<line x1="442.1" y1="2587.02" x2="451.4" y2="2587.02"/>
<line x1="442.1" y1="2600.73" x2="451.4" y2="2600.73"/>
<line x1="442.1" y1="2614.45" x2="451.4" y2="2614.45"/>
<line x1="442.1" y1="2628.16" x2="451.4" y2="2628.16"/>
<line x1="442.1" y1="2641.88" x2="451.4" y2="2641.88"/>
<line x1="507.95" y1="2650.6" x2="507.95" y2="2659.7"/>
<line x1="743.8" y1="2650.6" x2="743.8" y2="2659.7"/>
<line x1="979.5" y1="2650.6" x2="979.5" y2="2659.7"/>
<line x1="1215.15" y1="2650.6" x2="1215.15" y2="2659.7"/>
<line x1="1451" y1="2650.6" x2="1451" y2="2659.7"/>
<line x1="1686.85" y1="2650.6" x2="1686.85" y2="2659.7"/>
</g>
<g class="yl">
<text x="434.5" y="15.85">Liechtenstein</text>
<text x="434.5" y="29.56">Qatar</text>
<text x="434.5" y="43.28">Luxembourg</text>
<text x="434.5" y="56.99">United Arab Emirates</text>
<text x="434.5" y="70.71">Singapore</text>
<text x="434.5" y="84.42">Kuwait</text>
<text x="434.5" y="98.14">San Marino</text>
<text x="434.5" y="111.85">Brunei Darussalam</text>
<text x="434.5" y="125.57">Switzerland</text>
<text x="434.5" y="139.28">Norway</text>
<text x="434.5" y="153">United States</text>
<text x="434.5" y="166.72">Ireland</text>
<text x="434.5" y="180.43">Andorra</text>
<text x="434.5" y="194.14">Denmark</text>
<text x="434.5" y="207.86">Hong Kong</text>
<text x="434.5" y="221.57">Austria</text>
<text x="434.5" y="235.29">Netherlands</text>
<text x="434.5" y="249">Germany</text>
<text x="434.5" y="262.72">Sweden</text>
<text x="434.5" y="276.44">Belgium</text>
<text x="434.5" y="290.15">Iceland</text>
<text x="434.5" y="303.87">Finland</text>
<text x="434.5" y="317.58">Bahrain</text>
<text x="434.5" y="331.3">Canada</text>
<text x="434.5" y="345.01">Saudi Arabia</text>
<text x="434.5" y="358.73">Australia</text>
<text x="434.5" y="372.44">France</text>
<text x="434.5" y="386.16">United Kingdom</text>
<text x="434.5" y="399.87">Italy</text>
<text x="434.5" y="413.59">Japan</text>
<text x="434.5" y="427.3">New Zealand</text>
<text x="434.5" y="441.02">Spain</text>
<text x="434.5" y="454.73">Cyprus</text>
<text x="434.5" y="468.44">Oman</text>
<text x="434.5" y="482.16">Israel</text>
<text x="434.5" y="495.88">Korea, Republic of</text>
<text x="434.5" y="509.59">Bahamas</text>
<text x="434.5" y="523.3">Malta</text>
<text x="434.5" y="537.02">Slovenia</text>
<text x="434.5" y="550.74">Czech Republic</text>
<text x="434.5" y="564.45">Portugal</text>
<text x="434.5" y="578.16">Greece</text>
<text x="434.5" y="591.88">Estonia</text>
<text x="434.5" y="605.6">Lithuania</text>
<text x="434.5" y="619.31">Libya</text>
<text x="434.5" y="633.02">Hungary</text>
<text x="434.5" y="646.74">Croatia</text>
<text x="434.5" y="660.46">Slovakia</text>
<text x="434.5" y="674.17">Saint Kitts and Nevis</text>
<text x="434.5" y="687.88">Trinidad and Tobago</text>
<text x="434.5" y="701.6">Poland</text>
<text x="434.5" y="715.32">Latvia</text>
<text x="434.5" y="729.03">Russian Federation</text>
<text x="434.5" y="742.75">Seychelles</text>
<text x="434.5" y="756.46">Panama</text>
<text x="434.5" y="770.18">Turkey</text>
<text x="434.5" y="783.89">Romania</text>
<text x="434.5" y="797.61">Malaysia</text>
<text x="434.5" y="811.32">Argentina</text>
<text x="434.5" y="825.03">Chile</text>
<text x="434.5" y="838.75">Antigua and Barbuda</text>
<text x="434.5" y="852.47">Kazakhstan</text>
<text x="434.5" y="866.18">Uruguay</text>
<text x="434.5" y="879.89">Mexico</text>
<text x="434.5" y="893.61">Mauritius</text>
<text x="434.5" y="907.33">Bulgaria</text>
<text x="434.5" y="921.04">Palau</text>
<text x="434.5" y="934.75">Montenegro</text>
<text x="434.5" y="948.47">Costa Rica</text>
<text x="434.5" y="962.19">Equatorial Guinea</text>
<text x="434.5" y="975.9">Lebanon</text>
<text x="434.5" y="989.62">Maldives</text>
<text x="434.5" y="1003.33">Belarus</text>
<text x="434.5" y="1017.04">Barbados</text>
<text x="434.5" y="1030.76">Venezuela</text>
<text x="434.5" y="1044.47">Suriname</text>
<text x="434.5" y="1058.19">Serbia</text>
<text x="434.5" y="1071.9">Iran, Islamic Republic of</text>
<text x="434.5" y="1085.62">Thailand</text>
<text x="434.5" y="1099.33">Brazil</text>
<text x="434.5" y="1113.05">North Macedonia</text>
<text x="434.5" y="1126.76">Saint Lucia</text>
<text x="434.5" y="1140.48">Dominican Republic</text>
<text x="434.5" y="1154.19">Botswana</text>
<text x="434.5" y="1167.91">South Africa</text>
<text x="434.5" y="1181.62">Gabon</text>
<text x="434.5" y="1195.34">Grenada</text>
<text x="434.5" y="1209.05">Colombia</text>
<text x="434.5" y="1222.77">Dominica</text>
<text x="434.5" y="1236.48">Saint Vincent and the Grenadines</text>
<text x="434.5" y="1250.2">Ukraine</text>
<text x="434.5" y="1263.91">Bosnia and Herzegovina</text>
<text x="434.5" y="1277.63">Guyana</text>
<text x="434.5" y="1291.34">Azerbaijan</text>
<text x="434.5" y="1305.06">Turkmenistan</text>
<text x="434.5" y="1318.77">Albania</text>
<text x="434.5" y="1332.49">Paraguay</text>
<text x="434.5" y="1346.2">Algeria</text>
<text x="434.5" y="1359.92">Jordan</text>
<text x="434.5" y="1373.63">Fiji</text>
<text x="434.5" y="1387.35">Georgia</text>
<text x="434.5" y="1401.06">Ecuador</text>
<text x="434.5" y="1414.78">Armenia</text>
<text x="434.5" y="1428.49">China</text>
<text x="434.5" y="1442.21">Egypt</text>
<text x="434.5" y="1455.92">Sri Lanka</text>
<text x="434.5" y="1469.64">Moldova, Republic of</text>
<text x="434.5" y="1483.35">Jamaica</text>
<text x="434.5" y="1497.07">Tunisia</text>
<text x="434.5" y="1510.78">Peru</text>
<text x="434.5" y="1524.5">Namibia</text>
<text x="434.5" y="1538.21">Nauru</text>
<text x="434.5" y="1551.93">Belize</text>
<text x="434.5" y="1565.64">Indonesia</text>
<text x="434.5" y="1579.36">Iraq</text>
<text x="434.5" y="1593.07">Mongolia</text>
<text x="434.5" y="1606.79">Bhutan</text>
<text x="434.5" y="1620.5">Guatemala</text>
<text x="434.5" y="1634.22">El Salvador</text>
<text x="434.5" y="1647.93">Swaziland</text>
<text x="434.5" y="1661.65">Philippines</text>
<text x="434.5" y="1675.36">Cuba</text>
<text x="434.5" y="1689.08">Viet Nam</text>
<text x="434.5" y="1702.79">Morocco</text>
<text x="434.5" y="1716.51">Bolivia</text>
<text x="434.5" y="1730.22">Cape Verde</text>
<text x="434.5" y="1743.94">Angola</text>
<text x="434.5" y="1757.65">Palestine, State of</text>
<text x="434.5" y="1771.37">Syrian Arab Republic</text>
<text x="434.5" y="1785.08">Tonga</text>
<text x="434.5" y="1798.8">Timor−Leste</text>
<text x="434.5" y="1812.51">Samoa</text>
<text x="434.5" y="1826.23">Uzbekistan</text>
<text x="434.5" y="1839.94">Marshall Islands</text>
<text x="434.5" y="1853.66">Lao People's Democratic Republic</text>
<text x="434.5" y="1867.38">Mauritania</text>
<text x="434.5" y="1881.09">Tuvalu</text>
<text x="434.5" y="1894.8">Nicaragua</text>
<text x="434.5" y="1908.52">Honduras</text>
<text x="434.5" y="1922.23">India</text>
<text x="434.5" y="1935.95">Nigeria</text>
<text x="434.5" y="1949.66">Sudan</text>
<text x="434.5" y="1963.38">Pakistan</text>
<text x="434.5" y="1977.09">Kyrgyzstan</text>
<text x="434.5" y="1990.81">Bangladesh</text>
<text x="434.5" y="2004.52">Ghana</text>
<text x="434.5" y="2018.24">Micronesia, Federated States of</text>
<text x="434.5" y="2031.95">Congo</text>
<text x="434.5" y="2045.67">Kenya</text>
<text x="434.5" y="2059.39">Cote d'Ivoire</text>
<text x="434.5" y="2073.1">Sao Tome and Principe</text>
<text x="434.5" y="2086.82">Cameroon</text>
<text x="434.5" y="2100.53">Papua New Guinea</text>
<text x="434.5" y="2114.24">Djibouti</text>
<text x="434.5" y="2127.96">Comoros</text>
<text x="434.5" y="2141.67">Kiribati</text>
<text x="434.5" y="2155.39">Haiti</text>
<text x="434.5" y="2169.11">Tajikistan</text>
<text x="434.5" y="2182.82">Senegal</text>
<text x="434.5" y="2196.53">Nepal</text>
<text x="434.5" y="2210.25">Vanuatu</text>
<text x="434.5" y="2223.96">Myanmar</text>
<text x="434.5" y="2237.68">Cambodia</text>
<text x="434.5" y="2251.39">Lesotho</text>
<text x="434.5" y="2265.11">Benin</text>
<text x="434.5" y="2278.82">Zambia</text>
<text x="434.5" y="2292.54">Yemen</text>
<text x="434.5" y="2306.26">Solomon Islands</text>
<text x="434.5" y="2319.97">United Republic of Tanzania</text>
<text x="434.5" y="2333.68">Guinea</text>
<text x="434.5" y="2347.4">Gambia</text>
<text x="434.5" y="2361.11">Mali</text>
<text x="434.5" y="2374.83">Uganda</text>
<text x="434.5" y="2388.55">Afghanistan</text>
<text x="434.5" y="2402.26">Togo</text>
<text x="434.5" y="2415.97">Guinea−Bissau</text>
<text x="434.5" y="2429.69">Zimbabwe</text>
<text x="434.5" y="2443.4">Burkina Faso</text>
<text x="434.5" y="2457.12">Eritrea</text>
<text x="434.5" y="2470.84">Rwanda</text>
<text x="434.5" y="2484.55">Madagascar</text>
<text x="434.5" y="2498.26">Chad</text>
<text x="434.5" y="2511.98">Sierra Leone</text>
<text x="434.5" y="2525.69">Ethiopia</text>
<text x="434.5" y="2539.41">Liberia</text>
<text x="434.5" y="2553.12">Malawi</text>
<text x="434.5" y="2566.84">Niger</text>
<text x="434.5" y="2580.55">Mozambique</text>
<text x="434.5" y="2594.27">Central African Republic</text>
<text x="434.5" y="2607.98">Somalia</text>
<text x="434.5" y="2621.7">Democratic Republic of the Congo</text>
<text x="434.5" y="2635.41">South Sudan</text>
<text x="434.5" y="2649.13">Burundi</text>
</g>
<g class="xl">
<text x="507.95" y="2681.3">0</text>
<text x="743.8" y="2681.3">25000</text>
<text x="979.5" y="2681.3">50000</text>
<text x="1215.15" y="2681.3">75000</text>
<text x="1451" y="2681.3">100000</text>
<text x="1686.85" y="2681.3">125000</text>
</g>
<text class="ttl" x="1070.8" y="2712.1">Average GNI per capita, 2000−2022 (International−$ in 2017 prices)</text>
<text class="ttl" transform="translate(17.0 1325.5) rotate(-90)" x="0" y="0">Country</text>
</svg>
</body></html>
